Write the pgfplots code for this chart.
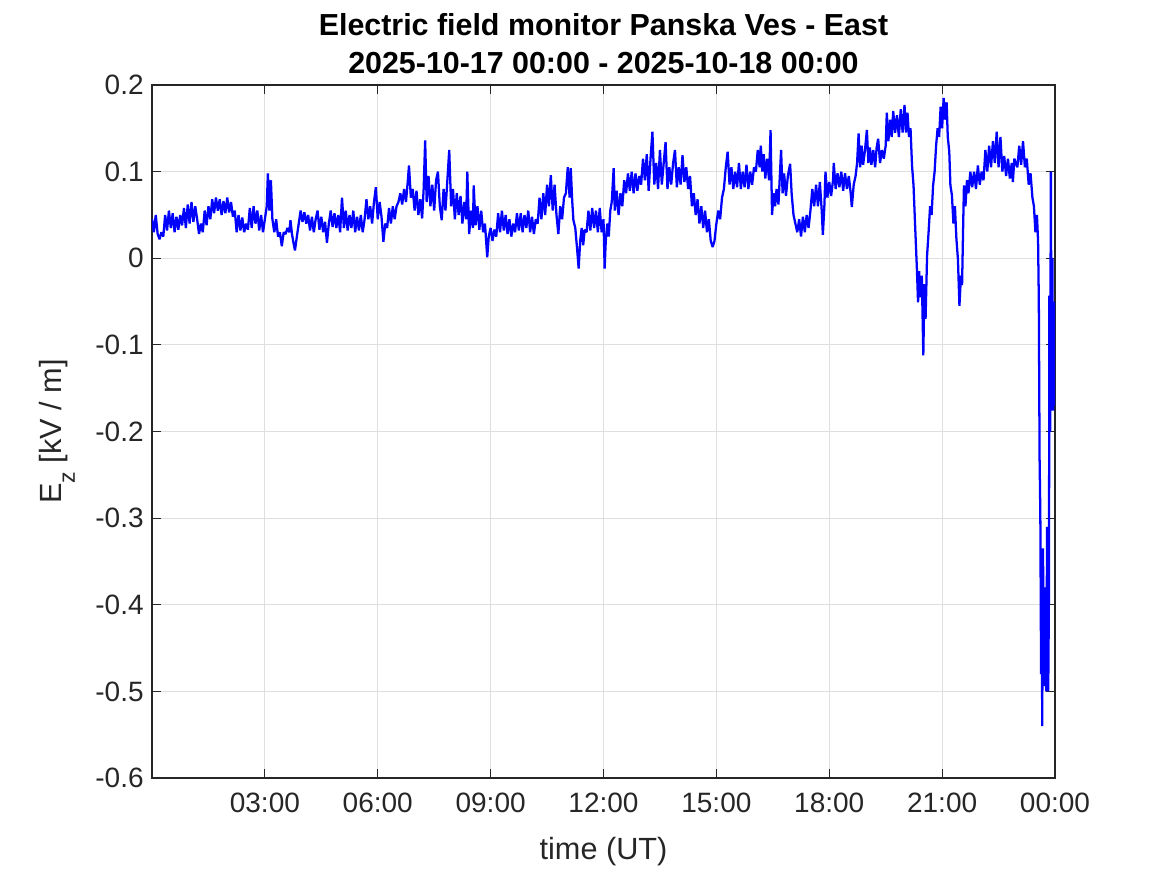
\documentclass[border=0pt]{standalone}
\usepackage{fontspec}
\setmainfont{Liberation Sans}
\usepackage{pgfplots}
\pgfplotsset{compat=1.18}
\definecolor{axgray}{HTML}{262626}
\definecolor{gridgray}{HTML}{DFDFDF}
\begin{document}
\begin{tikzpicture}
\useasboundingbox (-114pt,-72.75pt) rectangle (761.25pt,583.5pt);
\begin{axis}[name=ax, anchor=south west, at={(0,0)},
  scale only axis, width=677.25pt, height=519.75pt,
  xmin=0, xmax=24, ymin=-0.6, ymax=0.2,
  xtick={3,6,9,12,15,18,21,24},
  xticklabels={03:00,06:00,09:00,12:00,15:00,18:00,21:00,00:00},
  ytick={-0.6,-0.5,-0.4,-0.3,-0.2,-0.1,0,0.1,0.2},
  yticklabels={-0.6,-0.5,-0.4,-0.3,-0.2,-0.1,0,0.1,0.2},
  tick align=inside, tick pos=both, major tick length=6.75pt,
  grid=major, major grid style={gridgray, line width=0.6pt},
  axis line style={axgray, line width=0.8pt},
  every tick/.style={axgray, line width=0.8pt},
  tick label style={font=\fontsize{21}{25}\selectfont, text=axgray},
  xticklabel style={yshift=-8pt},
  yticklabel style={xshift=-2.75pt},
  xlabel={time (UT)},
  xlabel style={font=\fontsize{23}{27}\selectfont, text=axgray, at={(axis description cs:0.5,-0.1183)}, anchor=base},
  ylabel={E\raisebox{-9.75pt}{\fontsize{17.3}{18}\selectfont z} [kV / m]},
  ylabel style={font=\fontsize{23}{27}\selectfont, text=axgray, at={(axis description cs:-0.0997,0.5)}, anchor=base, rotate=0},
  title={Electric field monitor Panska Ves - East\\2025-10-17 00:00 - 2025-10-18 00:00},
  title style={font=\bfseries\fontsize{22.8}{28.5}\selectfont, align=center, at={(axis description cs:0.5,1)}, anchor=south, inner sep=0pt, yshift=2.25pt},
]
\addplot[color={rgb,255:red,0;green,0;blue,255}, line width=1.7pt, line join=bevel] coordinates {
(0.00,0.045) (0.05,0.030) (0.10,0.050) (0.15,0.028) (0.20,0.022) (0.25,0.030) (0.30,0.025) (0.35,0.050) (0.40,0.032) (0.45,0.055)
(0.50,0.035) (0.55,0.052) (0.60,0.030) (0.65,0.048) (0.70,0.033) (0.75,0.050) (0.80,0.038) (0.85,0.058) (0.90,0.035) (0.95,0.062)
(1.00,0.040) (1.05,0.065) (1.10,0.042) (1.15,0.060) (1.20,0.045) (1.25,0.028) (1.30,0.040) (1.35,0.030) (1.40,0.055) (1.45,0.038)
(1.50,0.060) (1.55,0.045) (1.60,0.068) (1.65,0.052) (1.70,0.070) (1.75,0.055) (1.80,0.068) (1.85,0.050) (1.90,0.066) (1.95,0.052)
(2.00,0.070) (2.05,0.053) (2.10,0.065) (2.15,0.048) (2.20,0.055) (2.25,0.030) (2.30,0.050) (2.35,0.032) (2.40,0.047) (2.45,0.030)
(2.50,0.040) (2.55,0.033) (2.60,0.058) (2.65,0.035) (2.70,0.060) (2.75,0.040) (2.80,0.055) (2.85,0.032) (2.90,0.050) (2.95,0.030)
(3.00,0.045) (3.05,0.060) (3.08,0.098) (3.12,0.055) (3.16,0.090) (3.20,0.045) (3.25,0.030) (3.30,0.045) (3.35,0.025) (3.40,0.030)
(3.45,0.014) (3.50,0.030) (3.55,0.028) (3.60,0.035) (3.65,0.030) (3.68,0.044) (3.72,0.028) (3.76,0.018) (3.80,0.009) (3.85,0.025)
(3.90,0.040) (3.95,0.055) (4.00,0.042) (4.05,0.053) (4.10,0.040) (4.15,0.050) (4.20,0.032) (4.25,0.048) (4.30,0.030) (4.35,0.045)
(4.40,0.055) (4.45,0.033) (4.50,0.048) (4.55,0.030) (4.60,0.042) (4.65,0.018) (4.70,0.040) (4.75,0.055) (4.80,0.036) (4.85,0.052)
(4.90,0.035) (4.95,0.050) (5.00,0.030) (5.05,0.070) (5.10,0.035) (5.15,0.055) (5.20,0.032) (5.25,0.050) (5.30,0.035) (5.35,0.055)
(5.40,0.030) (5.45,0.048) (5.50,0.032) (5.55,0.050) (5.60,0.030) (5.65,0.045) (5.70,0.068) (5.75,0.045) (5.80,0.060) (5.85,0.040)
(5.90,0.065) (5.95,0.082) (6.00,0.045) (6.05,0.065) (6.10,0.048) (6.15,0.019) (6.20,0.040) (6.25,0.035) (6.30,0.058) (6.35,0.040)
(6.40,0.060) (6.45,0.045) (6.50,0.060) (6.55,0.065) (6.60,0.075) (6.65,0.062) (6.70,0.080) (6.75,0.065) (6.80,0.090) (6.83,0.107)
(6.88,0.070) (6.93,0.080) (6.98,0.055) (7.03,0.078) (7.08,0.050) (7.13,0.068) (7.18,0.046) (7.22,0.080) (7.26,0.136) (7.30,0.065)
(7.35,0.095) (7.40,0.060) (7.45,0.085) (7.50,0.055) (7.55,0.090) (7.60,0.100) (7.65,0.060) (7.70,0.044) (7.75,0.080) (7.80,0.055)
(7.85,0.090) (7.90,0.125) (7.95,0.060) (8.00,0.080) (8.05,0.045) (8.10,0.075) (8.15,0.050) (8.20,0.072) (8.25,0.040) (8.30,0.065)
(8.35,0.045) (8.38,0.100) (8.43,0.028) (8.48,0.055) (8.53,0.035) (8.55,0.084) (8.60,0.038) (8.65,0.060) (8.70,0.033) (8.75,0.055)
(8.80,0.030) (8.85,0.040) (8.91,0.001) (8.95,0.025) (9.00,0.035) (9.05,0.020) (9.10,0.033) (9.15,0.025) (9.20,0.052) (9.25,0.030)
(9.30,0.055) (9.35,0.032) (9.40,0.050) (9.45,0.028) (9.50,0.045) (9.55,0.025) (9.60,0.040) (9.65,0.030) (9.70,0.052) (9.75,0.032)
(9.80,0.052) (9.85,0.030) (9.90,0.050) (9.95,0.035) (10.00,0.055) (10.05,0.030) (10.10,0.048) (10.15,0.028) (10.20,0.045) (10.25,0.040)
(10.30,0.070) (10.35,0.045) (10.40,0.075) (10.45,0.050) (10.50,0.085) (10.55,0.060) (10.60,0.096) (10.65,0.055) (10.70,0.085) (10.75,0.050)
(10.80,0.028) (10.85,0.060) (10.90,0.045) (10.95,0.070) (11.00,0.075) (11.05,0.105) (11.10,0.070) (11.13,0.104) (11.17,0.065) (11.20,0.044)
(11.25,0.035) (11.30,0.010) (11.34,-0.012) (11.38,0.020) (11.42,0.035) (11.46,0.015) (11.50,0.033) (11.55,0.030) (11.60,0.055) (11.65,0.032)
(11.70,0.058) (11.75,0.035) (11.80,0.055) (11.85,0.030) (11.90,0.058) (11.95,0.030) (12.00,0.045) (12.03,-0.012) (12.06,0.020) (12.10,0.040)
(12.14,0.025) (12.18,0.055) (12.22,0.065) (12.27,0.104) (12.30,0.055) (12.35,0.078) (12.40,0.050) (12.45,0.075) (12.50,0.060) (12.55,0.090)
(12.60,0.075) (12.65,0.098) (12.70,0.078) (12.75,0.100) (12.80,0.075) (12.85,0.098) (12.90,0.078) (12.95,0.095) (13.00,0.085) (13.05,0.115)
(13.10,0.090) (13.15,0.120) (13.20,0.078) (13.25,0.115) (13.30,0.146) (13.35,0.085) (13.40,0.110) (13.45,0.080) (13.50,0.125) (13.55,0.085)
(13.60,0.110) (13.65,0.134) (13.70,0.080) (13.75,0.105) (13.80,0.085) (13.85,0.110) (13.90,0.125) (13.95,0.082) (14.00,0.105) (14.05,0.085)
(14.10,0.119) (14.15,0.088) (14.20,0.105) (14.25,0.080) (14.30,0.095) (14.35,0.060) (14.40,0.075) (14.45,0.050) (14.50,0.068) (14.55,0.040)
(14.60,0.060) (14.65,0.035) (14.70,0.055) (14.75,0.030) (14.80,0.045) (14.85,0.020) (14.90,0.013) (14.95,0.020) (15.00,0.040) (15.05,0.055)
(15.10,0.045) (15.15,0.070) (15.20,0.080) (15.25,0.105) (15.30,0.123) (15.35,0.085) (15.40,0.105) (15.45,0.080) (15.50,0.100) (15.55,0.082)
(15.60,0.110) (15.65,0.080) (15.70,0.100) (15.75,0.082) (15.80,0.108) (15.85,0.080) (15.90,0.100) (15.95,0.085) (16.00,0.105) (16.05,0.100)
(16.10,0.125) (16.15,0.105) (16.18,0.130) (16.22,0.100) (16.26,0.120) (16.30,0.092) (16.35,0.115) (16.40,0.090) (16.44,0.148) (16.48,0.050)
(16.52,0.075) (16.56,0.060) (16.60,0.080) (16.65,0.062) (16.72,0.125) (16.76,0.075) (16.80,0.098) (16.85,0.072) (16.90,0.095) (16.96,0.109)
(17.00,0.075) (17.05,0.050) (17.10,0.040) (17.15,0.030) (17.20,0.045) (17.25,0.025) (17.30,0.048) (17.35,0.030) (17.40,0.050) (17.45,0.035)
(17.50,0.055) (17.55,0.080) (17.60,0.060) (17.65,0.085) (17.70,0.060) (17.75,0.088) (17.80,0.055) (17.83,0.027) (17.87,0.060) (17.90,0.100)
(17.95,0.070) (18.00,0.088) (18.05,0.072) (18.10,0.090) (18.12,0.110) (18.17,0.080) (18.22,0.098) (18.27,0.082) (18.32,0.100) (18.37,0.078)
(18.42,0.098) (18.47,0.080) (18.52,0.095) (18.57,0.075) (18.60,0.059) (18.65,0.085) (18.70,0.095) (18.74,0.110) (18.78,0.144) (18.82,0.105)
(18.86,0.130) (18.90,0.108) (18.95,0.125) (19.00,0.148) (19.04,0.110) (19.08,0.128) (19.12,0.108) (19.17,0.125) (19.22,0.105) (19.26,0.128)
(19.30,0.138) (19.35,0.110) (19.40,0.125) (19.45,0.115) (19.50,0.130) (19.53,0.168) (19.57,0.135) (19.62,0.160) (19.66,0.140) (19.70,0.170)
(19.75,0.145) (19.80,0.165) (19.85,0.140) (19.90,0.172) (19.95,0.145) (20.00,0.177) (20.04,0.145) (20.08,0.168) (20.12,0.140) (20.16,0.150)
(20.20,0.107) (20.24,0.084) (20.28,0.040) (20.30,0.019) (20.33,-0.013) (20.36,-0.051) (20.39,-0.015) (20.42,-0.045) (20.46,-0.020) (20.50,-0.112)
(20.53,-0.030) (20.56,-0.070) (20.60,0.003) (20.64,0.030) (20.68,0.060) (20.72,0.050) (20.76,0.084) (20.80,0.100) (20.84,0.130) (20.88,0.150)
(20.92,0.140) (20.96,0.175) (21.00,0.150) (21.04,0.185) (21.08,0.160) (21.12,0.180) (21.15,0.140) (21.19,0.123) (21.22,0.084) (21.26,0.073)
(21.30,0.040) (21.34,0.060) (21.38,0.022) (21.42,-0.001) (21.46,-0.055) (21.50,-0.020) (21.53,-0.031) (21.56,0.040) (21.58,0.084) (21.62,0.060)
(21.66,0.090) (21.70,0.075) (21.75,0.100) (21.80,0.082) (21.85,0.100) (21.90,0.080) (21.95,0.107) (22.00,0.085) (22.05,0.100) (22.10,0.090)
(22.15,0.125) (22.20,0.100) (22.25,0.130) (22.30,0.105) (22.35,0.135) (22.40,0.110) (22.45,0.146) (22.50,0.105) (22.55,0.140) (22.60,0.100)
(22.65,0.118) (22.70,0.095) (22.75,0.115) (22.80,0.092) (22.85,0.110) (22.88,0.088) (22.92,0.115) (23.00,0.105) (23.05,0.130) (23.10,0.108)
(23.15,0.135) (23.20,0.105) (23.25,0.115) (23.30,0.085) (23.35,0.098) (23.40,0.070) (23.44,0.060) (23.48,0.030) (23.52,0.050) (23.55,0.020)
(23.57,-0.050) (23.59,-0.230) (23.61,-0.295) (23.63,-0.480) (23.65,-0.400) (23.66,-0.540) (23.68,-0.335) (23.71,-0.494) (23.74,-0.380) (23.77,-0.500)
(23.79,-0.310) (23.82,-0.500) (23.84,-0.380) (23.85,-0.043) (23.87,-0.200) (23.89,0.100) (23.91,-0.176) (23.93,0.000) (23.95,-0.176) (23.97,-0.050)
(23.99,-0.170) (24.00,-0.060)
};
\end{axis}
\end{tikzpicture}
\end{document}
